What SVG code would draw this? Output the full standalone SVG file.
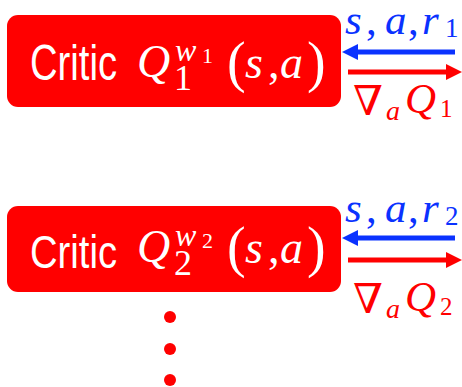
<svg xmlns="http://www.w3.org/2000/svg" width="462" height="387" viewBox="0 0 462 387">
<style>
.box{fill:#ff0000}
.w{fill:#ffffff}
.b{fill:#0a32ff}
.r{fill:#ff0000}
.ab{stroke:#0a32ff;stroke-width:5;fill:none}
.ar{stroke:#ff0000;stroke-width:5;fill:none}
</style>
<defs>
<marker id="hb" viewBox="0 0 16 16" refX="8" refY="8" markerWidth="16" markerHeight="16" markerUnits="userSpaceOnUse" orient="auto"><path d="M0,0 L16,8 L0,16 z" fill="#0a32ff"/></marker>
<marker id="hr" viewBox="0 0 16 16" refX="8" refY="8" markerWidth="16" markerHeight="16" markerUnits="userSpaceOnUse" orient="auto"><path d="M0,0 L16,8 L0,16 z" fill="#ff0000"/></marker>
</defs>

<g id="critic1">
<rect class="box" x="7" y="15" width="334" height="92" rx="11"/>
<text class="w" font-family="Liberation Sans" x="30" y="80" font-size="50" textLength="87" lengthAdjust="spacingAndGlyphs">Critic</text>
<text class="w" font-family="Liberation Serif" x="137" y="77" font-size="46" font-style="italic">Q</text>
<text class="w" font-family="Liberation Serif" x="175" y="61" font-size="32" font-style="italic">w</text>
<text class="w" font-family="Liberation Serif" x="202" y="63" font-size="22">1</text>
<text class="w" font-family="Liberation Serif" x="174" y="90" font-size="36">1</text>
<text class="w" font-family="Liberation Serif" x="227" y="81" font-size="56">(</text>
<text class="w" font-family="Liberation Serif" x="245" y="78" font-size="46" font-style="italic">s</text>
<text class="w" font-family="Liberation Serif" x="268" y="78" font-size="46">,</text>
<text class="w" font-family="Liberation Serif" x="280" y="78" font-size="46" font-style="italic">a</text>
<text class="w" font-family="Liberation Serif" x="307" y="81" font-size="56">)</text>
</g>

<g id="critic2">
<rect class="box" x="7" y="206" width="334" height="86" rx="11"/>
<text class="w" font-family="Liberation Sans" x="30" y="268" font-size="47" textLength="87" lengthAdjust="spacingAndGlyphs">Critic</text>
<text class="w" font-family="Liberation Serif" x="137" y="262" font-size="46" font-style="italic">Q</text>
<text class="w" font-family="Liberation Serif" x="175" y="246" font-size="32" font-style="italic">w</text>
<text class="w" font-family="Liberation Serif" x="202" y="248" font-size="22">2</text>
<text class="w" font-family="Liberation Serif" x="174" y="275" font-size="36">2</text>
<text class="w" font-family="Liberation Serif" x="227" y="266" font-size="56">(</text>
<text class="w" font-family="Liberation Serif" x="245" y="263" font-size="46" font-style="italic">s</text>
<text class="w" font-family="Liberation Serif" x="268" y="263" font-size="46">,</text>
<text class="w" font-family="Liberation Serif" x="280" y="263" font-size="46" font-style="italic">a</text>
<text class="w" font-family="Liberation Serif" x="307" y="266" font-size="56">)</text>
</g>

<g id="connectors">
<line class="ab" x1="455" y1="52" x2="350" y2="52" marker-end="url(#hb)"/>
<line class="ar" x1="348" y1="72" x2="454" y2="72" marker-end="url(#hr)"/>
<line class="ab" x1="455" y1="238" x2="350" y2="238" marker-end="url(#hb)"/>
<line class="ar" x1="348" y1="260" x2="454" y2="260" marker-end="url(#hr)"/>
</g>

<g id="labels1">
<text class="b" font-family="Liberation Serif" x="345" y="34" font-size="43" font-style="italic">s</text>
<text class="b" font-family="Liberation Serif" x="366" y="34" font-size="43">,</text>
<text class="b" font-family="Liberation Serif" x="385" y="34" font-size="43" font-style="italic">a</text>
<text class="b" font-family="Liberation Serif" x="408" y="34" font-size="43">,</text>
<text class="b" font-family="Liberation Serif" x="422" y="34" font-size="43" font-style="italic">r</text>
<text class="b" font-family="Liberation Serif" x="445" y="37" font-size="27">1</text>
<text class="r" font-family="DejaVu Serif" x="353" y="115" font-size="41" textLength="30" lengthAdjust="spacingAndGlyphs">∇</text>
<text class="r" font-family="Liberation Serif" x="386" y="120" font-size="28" font-style="italic">a</text>
<text class="r" font-family="Liberation Serif" x="405" y="113" font-size="43" font-style="italic">Q</text>
<text class="r" font-family="Liberation Serif" x="440" y="117" font-size="25">1</text>
</g>

<g id="labels2">
<text class="b" font-family="Liberation Serif" x="345" y="222" font-size="43" font-style="italic">s</text>
<text class="b" font-family="Liberation Serif" x="366" y="222" font-size="43">,</text>
<text class="b" font-family="Liberation Serif" x="385" y="222" font-size="43" font-style="italic">a</text>
<text class="b" font-family="Liberation Serif" x="408" y="222" font-size="43">,</text>
<text class="b" font-family="Liberation Serif" x="422" y="222" font-size="43" font-style="italic">r</text>
<text class="b" font-family="Liberation Serif" x="445" y="225" font-size="27">2</text>
<text class="r" font-family="DejaVu Serif" x="353" y="313" font-size="41" textLength="30" lengthAdjust="spacingAndGlyphs">∇</text>
<text class="r" font-family="Liberation Serif" x="386" y="318" font-size="28" font-style="italic">a</text>
<text class="r" font-family="Liberation Serif" x="405" y="311" font-size="43" font-style="italic">Q</text>
<text class="r" font-family="Liberation Serif" x="440" y="315" font-size="25">2</text>
</g>

<g id="ellipsis" class="r">
<circle cx="170" cy="317" r="6"/>
<circle cx="170" cy="349" r="6"/>
<circle cx="170" cy="380" r="6"/>
</g>
</svg>
